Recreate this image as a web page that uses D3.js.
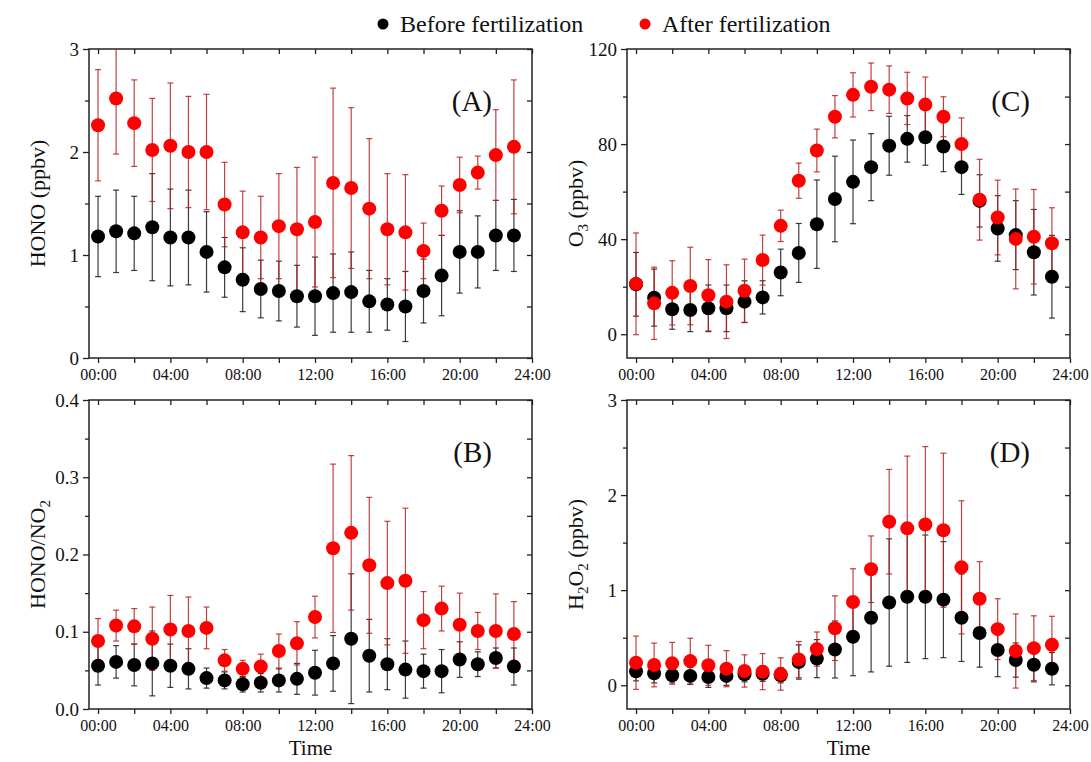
<!DOCTYPE html>
<html>
<head>
<meta charset="utf-8">
<script src="https://cdn.jsdelivr.net/npm/d3@7"></script>
<style>
  html, body { margin: 0; padding: 0; background: #fff; }
  svg { display: block; font-family: "Liberation Serif", "Times New Roman", serif; }
</style>
</head>
<body>
<svg id="chart" width="1091" height="762"></svg>
<script>
// Hour of day (categories) and time-axis tick labels
const hours = [0,1,2,3,4,5,6,7,8,9,10,11,12,13,14,15,16,17,18,19,20,21,22,23];
const timeTicks = [0,4,8,12,16,20,24];
const timeTickLabels = ["00:00","04:00","08:00","12:00","16:00","20:00","24:00"];
const timeMinorTicks = [2,6,10,14,18,22];

const seriesNames = ["Before fertilization", "After fertilization"];
const seriesColors = ["#000000", "#ff0000"];
const barColors = ["#1a1a1a", "#bb2020"];

// (A) HONO, ppbv — hourly means and standard deviations
const honoBefore   = [1.18,1.23,1.21,1.27,1.17,1.17,1.03,0.88,0.76,0.67,0.65,0.60,0.60,0.63,0.64,0.55,0.52,0.50,0.65,0.80,1.03,1.03,1.19,1.19];
const honoBeforeSd = [0.39,0.40,0.36,0.52,0.47,0.46,0.39,0.29,0.31,0.28,0.29,0.30,0.38,0.38,0.39,0.30,0.25,0.34,0.31,0.39,0.40,0.35,0.34,0.35];
const honoAfter    = [2.26,2.52,2.28,2.02,2.06,2.00,2.00,1.49,1.22,1.17,1.28,1.25,1.32,1.70,1.65,1.45,1.25,1.22,1.04,1.43,1.68,1.80,1.97,2.05];
const honoAfterSd  = [0.54,0.54,0.42,0.50,0.61,0.54,0.56,0.41,0.40,0.40,0.51,0.60,0.63,0.92,0.78,0.68,0.54,0.56,0.27,0.24,0.27,0.16,0.44,0.65];

// (B) HONO/NO2 ratio
const ratioBefore   = [0.056,0.061,0.057,0.059,0.056,0.052,0.040,0.037,0.032,0.034,0.037,0.039,0.047,0.059,0.091,0.069,0.058,0.051,0.049,0.049,0.064,0.058,0.066,0.055];
const ratioBeforeSd = [0.025,0.021,0.027,0.042,0.028,0.026,0.013,0.011,0.010,0.012,0.015,0.020,0.029,0.036,0.084,0.047,0.033,0.037,0.022,0.028,0.023,0.016,0.013,0.024];
const ratioAfter    = [0.088,0.108,0.107,0.091,0.103,0.101,0.105,0.063,0.052,0.055,0.075,0.085,0.119,0.208,0.228,0.186,0.163,0.166,0.115,0.130,0.109,0.101,0.101,0.097];
const ratioAfterSd  = [0.029,0.020,0.023,0.041,0.044,0.044,0.027,0.014,0.011,0.016,0.022,0.028,0.027,0.109,0.100,0.088,0.080,0.094,0.037,0.029,0.041,0.024,0.048,0.042];

// (C) O3, ppbv
const o3Before   = [21.0,15.4,10.5,10.2,10.9,10.9,13.7,15.5,26.0,34.2,46.3,56.9,64.1,70.3,79.3,82.2,82.9,79.0,70.3,56.1,44.5,41.7,34.5,24.2];
const o3BeforeSd = [13.4,12.0,8.4,9.1,9.8,9.8,8.8,7.0,9.8,12.4,18.6,18.0,17.6,14.1,12.4,9.8,11.8,10.6,11.5,11.0,13.8,14.5,18.0,17.4];
const o3After    = [21.2,13.0,17.4,20.3,16.4,13.7,18.3,31.2,45.6,64.6,77.3,91.5,100.7,104.1,102.9,99.2,96.6,91.5,80.0,56.6,49.1,40.1,41.0,38.3];
const o3AfterSd  = [21.4,15.2,13.5,16.3,15.0,15.5,13.3,10.5,6.6,7.4,9.0,8.9,9.3,10.0,10.0,11.0,11.6,8.4,11.0,17.0,15.7,21.0,19.9,14.9];

// (D) H2O2, ppbv
const h2o2Before   = [0.146,0.125,0.105,0.098,0.087,0.098,0.115,0.120,0.105,0.244,0.280,0.376,0.51,0.71,0.87,0.93,0.93,0.90,0.71,0.55,0.37,0.265,0.216,0.174];
const h2o2BeforeSd = [0.10,0.10,0.08,0.09,0.11,0.10,0.08,0.08,0.08,0.18,0.20,0.30,0.41,0.57,0.67,0.69,0.65,0.61,0.46,0.36,0.28,0.18,0.18,0.17];
const h2o2After    = [0.237,0.213,0.230,0.254,0.210,0.174,0.150,0.143,0.118,0.270,0.380,0.600,0.875,1.22,1.72,1.65,1.69,1.63,1.24,0.91,0.59,0.36,0.39,0.425];
const h2o2AfterSd  = [0.28,0.23,0.22,0.24,0.21,0.19,0.17,0.19,0.17,0.19,0.18,0.34,0.35,0.35,0.55,0.76,0.82,0.81,0.70,0.39,0.32,0.39,0.34,0.30];

// Y-axis ticks for each panel
const honoTicks = [0,1,2,3],            honoMinor = [0.5,1.5,2.5];
const ratioTicks = [0,0.1,0.2,0.3,0.4], ratioMinor = [0.05,0.15,0.25,0.35];
const o3Ticks = [0,40,80,120],          o3Minor = [20,60,100];
const h2o2Ticks = [0,1,2,3],            h2o2Minor = [0.5,1.5,2.5];

const panels = [
  { tag: "(A)", x0: 89,  x1: 532,  y0: 49,  y1: 358, domain: [0,3],      ticks: honoTicks,  minor: honoMinor,  fmt: d3.format("d"),
    title: [["HONO (ppbv)", ""]], before: honoBefore, beforeSd: honoBeforeSd, after: honoAfter, afterSd: honoAfterSd, xTitle: false },
  { tag: "(B)", x0: 89,  x1: 532,  y0: 400, y1: 709, domain: [0,0.4],    ticks: ratioTicks, minor: ratioMinor, fmt: d3.format(".1f"),
    title: [["HONO/NO", ""], ["2", "sub"]], before: ratioBefore, beforeSd: ratioBeforeSd, after: ratioAfter, afterSd: ratioAfterSd, xTitle: true },
  { tag: "(C)", x0: 627, x1: 1070, y0: 49,  y1: 358, domain: [-10,120],  ticks: o3Ticks,    minor: o3Minor,    fmt: d3.format("d"),
    title: [["O", ""], ["3", "sub"], [" (ppbv)", ""]], before: o3Before, beforeSd: o3BeforeSd, after: o3After, afterSd: o3AfterSd, xTitle: false },
  { tag: "(D)", x0: 627, x1: 1070, y0: 400, y1: 709, domain: [-0.25,3],  ticks: h2o2Ticks,  minor: h2o2Minor,  fmt: d3.format("d"),
    title: [["H", ""], ["2", "sub"], ["O", ""], ["2", "sub"], [" (ppbv)", ""]], before: h2o2Before, beforeSd: h2o2BeforeSd, after: h2o2After, afterSd: h2o2AfterSd, xTitle: true }
];

const svg = d3.select("#chart");
const axisColor = "#222";

panels.forEach((p, pi) => {
  const x = d3.scaleLinear().domain([-0.5, 24]).range([p.x0, p.x1]);
  const y = d3.scaleLinear().domain(p.domain).range([p.y1, p.y0]);
  const g = svg.append("g");

  const clipId = "clip" + pi;
  svg.append("clipPath").attr("id", clipId)
    .append("rect").attr("x", p.x0).attr("y", p.y0).attr("width", p.x1 - p.x0).attr("height", p.y1 - p.y0);

  // axes: outward ticks on bottom/left, mirrored inward ticks on top/right
  const styleAxis = sel => {
    sel.select(".domain").remove();
    sel.selectAll(".tick line").attr("stroke", axisColor).attr("stroke-width", 1.3);
    sel.selectAll(".tick text").attr("fill", "#111").style("font-family", "'Liberation Serif', 'Times New Roman', serif");
  };
  g.append("g").attr("transform", `translate(0,${p.y1})`)
    .call(d3.axisBottom(x).tickValues(timeTicks).tickFormat((d, i) => timeTickLabels[i]).tickSize(5).tickPadding(6))
    .call(styleAxis).call(s => s.selectAll(".tick text").style("font-size", "16px"));
  g.append("g").attr("transform", `translate(0,${p.y1})`)
    .call(d3.axisBottom(x).tickValues(timeMinorTicks).tickFormat("").tickSize(5)).call(styleAxis);
  g.append("g").attr("transform", `translate(0,${p.y0})`)
    .call(d3.axisTop(x).tickValues(timeTicks.concat(timeMinorTicks)).tickFormat("").tickSize(-5)).call(styleAxis);

  g.append("g").attr("transform", `translate(${p.x0},0)`)
    .call(d3.axisLeft(y).tickValues(p.ticks).tickFormat(p.fmt).tickSize(6).tickPadding(4))
    .call(styleAxis).call(s => s.selectAll(".tick text").style("font-size", "19px"));
  g.append("g").attr("transform", `translate(${p.x0},0)`)
    .call(d3.axisLeft(y).tickValues(p.minor).tickFormat("").tickSize(4)).call(styleAxis);
  g.append("g").attr("transform", `translate(${p.x1},0)`)
    .call(d3.axisRight(y).tickValues(p.ticks.concat(p.minor)).tickFormat("").tickSize(-5)).call(styleAxis);

  // frame
  g.append("rect").attr("x", p.x0).attr("y", p.y0).attr("width", p.x1 - p.x0).attr("height", p.y1 - p.y0)
    .attr("fill", "none").attr("stroke", axisColor).attr("stroke-width", 1.5);

  // y-axis title
  const yt = g.append("text")
    .attr("transform", `translate(${p.x0 - 52},${(p.y0 + p.y1) / 2}) rotate(-90)`)
    .attr("text-anchor", "middle").attr("dominant-baseline", "central")
    .style("font-size", "22px").attr("fill", "#111");
  p.title.forEach(([t, kind]) => {
    const ts = yt.append("tspan").text(t);
    if (kind === "sub") ts.attr("baseline-shift", "sub").style("font-size", "15px");
  });

  if (p.xTitle) {
    g.append("text").attr("x", (p.x0 + p.x1) / 2).attr("y", 755)
      .attr("text-anchor", "middle").style("font-size", "21px").attr("fill", "#111").text("Time");
  }

  // panel tag
  g.append("text").attr("x", p.x1 - 40).attr("y", p.y0 + 62)
    .attr("text-anchor", "end").style("font-size", "29px").attr("fill", "#111").text(p.tag);

  // data: error bars then markers, "before" first so "after" sits on top
  const plot = g.append("g").attr("clip-path", `url(#${clipId})`);
  const sets = [
    { vals: p.before, sd: p.beforeSd, color: seriesColors[0], bar: barColors[0] },
    { vals: p.after,  sd: p.afterSd,  color: seriesColors[1], bar: barColors[1] }
  ];
  const cap = 3;
  sets.forEach(s => {
    const rows = hours.map((h, i) => ({ h, v: s.vals[i], sd: s.sd[i] }));
    const eb = plot.append("g").attr("stroke", s.bar).attr("stroke-width", 1.2).attr("stroke-opacity", 0.85);
    eb.selectAll("line.v").data(rows).join("line").attr("class", "v")
      .attr("x1", d => x(d.h)).attr("x2", d => x(d.h))
      .attr("y1", d => y(d.v - d.sd)).attr("y2", d => y(d.v + d.sd));
    eb.selectAll("line.t").data(rows).join("line").attr("class", "t")
      .attr("x1", d => x(d.h) - cap).attr("x2", d => x(d.h) + cap)
      .attr("y1", d => y(d.v + d.sd)).attr("y2", d => y(d.v + d.sd));
    eb.selectAll("line.b").data(rows).join("line").attr("class", "b")
      .attr("x1", d => x(d.h) - cap).attr("x2", d => x(d.h) + cap)
      .attr("y1", d => y(d.v - d.sd)).attr("y2", d => y(d.v - d.sd));
  });
  sets.forEach(s => {
    plot.append("g").selectAll("circle").data(hours.map((h, i) => ({ h, v: s.vals[i] })))
      .join("circle").attr("cx", d => x(d.h)).attr("cy", d => y(d.v)).attr("r", 7).attr("fill", s.color);
  });
});

// legend
const legend = svg.append("g");
const legendX = [383, 645];
seriesNames.forEach((name, i) => {
  legend.append("circle").attr("cx", legendX[i]).attr("cy", 24).attr("r", 5.5).attr("fill", seriesColors[i]);
  legend.append("text").attr("x", legendX[i] + 17).attr("y", 32)
    .style("font-size", "24px").attr("fill", "#111").text(name);
});
</script>
</body>
</html>
